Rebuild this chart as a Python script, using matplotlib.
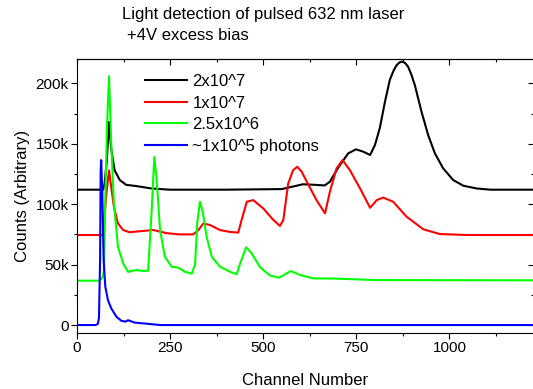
import matplotlib
matplotlib.use("Agg")
import matplotlib.pyplot as plt
from matplotlib.ticker import MultipleLocator, FuncFormatter
import numpy as np

plt.rcParams["font.family"] = ["Liberation Sans", "DejaVu Sans"]

# channel numbers / counts (thousands)
ch_2e7 = [0, 60, 70, 74, 80, 86, 92, 101, 115, 132, 159, 200, 250, 400, 550, 607,
          640, 665, 679, 697, 706, 728, 749, 769, 787, 800, 813, 827, 840, 850, 858, 866, 873,
          881, 889, 898, 907, 925, 943, 961, 983, 1010, 1037, 1073, 1110, 1230]
cnt_2e7 = [112, 112, 112, 117, 136, 168, 145, 128, 120, 116, 115, 113, 112, 112, 112.5, 116.5,
           116, 115.5, 118.6, 128, 132.4, 142, 145.4, 143.4, 140.7, 149, 163, 185, 203, 210.5, 215, 217.3, 218,
           216.8, 213.7, 207, 198.6, 176.5, 157, 142, 129.7, 120, 115.3, 113, 112, 112]

ch_1e7 = [0, 70, 79, 86, 92, 99, 110, 124, 141, 168, 205, 241, 276, 312, 326, 339, 357,
          384, 411, 433, 442, 456, 473, 500, 527, 545, 554, 567, 580, 591, 603, 617, 643, 666, 679,
          697, 713, 733, 760, 787, 805, 822, 849, 885, 930, 974, 1046, 1230]
cnt_1e7 = [74.5, 74.5, 109, 128, 114, 98, 84, 78.6, 76.8, 77.6, 78.6, 76, 75, 75, 78.6, 84, 82.8,
           78.6, 77, 76.5, 87, 102, 103.4, 96.5, 87, 82, 87, 117, 128, 131, 127, 118.6, 103.4, 92.4, 110.3,
           129.7, 136.5, 128, 113, 97, 103.4, 105.5, 102, 89.6, 79.2, 75.3, 74.5, 74.5]

ch_25e6 = [0, 60, 68, 72.5, 76, 80.5, 86, 92, 99, 110, 124, 137, 159, 178, 191, 200, 207.5,
           214, 223, 236, 254, 272, 290, 308, 317, 323, 330, 337.5, 348, 362, 384, 411, 429,
           438, 454, 469, 491, 518, 543, 574, 599, 634, 697, 800, 1230]
cnt_25e6 = [36.7, 36.7, 39, 45, 105, 164, 206, 150, 100.7, 64.8, 51, 44, 45.5, 44.7, 45, 92, 139,
            120, 78.6, 56.5, 48.3, 47.5, 44, 42.5, 50, 85, 102, 94, 73, 56.5, 48.3, 44, 42,
            51, 64.3, 59.3, 48, 41, 39.2, 44.7, 41.4, 38.6, 38.4, 37.2, 37]

ch_1e5 = [0, 50, 56, 59, 62, 63.5, 65, 68, 71.5, 76, 83, 92, 105.6, 119, 130, 137, 155, 183, 223, 1230]
cnt_1e5 = [0, 0, 1, 6, 54, 128, 136.5, 109, 54, 31.7, 20.7, 13.8, 6.9, 3.5, 2.8, 4, 2, 1.2, 0, 0]

series = [
    (ch_2e7, cnt_2e7, "black", "2x10^7"),
    (ch_1e7, cnt_1e7, "#ff0000", "1x10^7"),
    (ch_25e6, cnt_25e6, "#00ff00", "2.5x10^6"),
    (ch_1e5, cnt_1e5, "#0000ff", "~1x10^5 photons"),
]

W, H = 533, 389
fig = plt.figure(figsize=(W / 100, H / 100), dpi=100)
l, r, t, b = 77, 534, 59.3, 333
ax = fig.add_axes([l / W, 1 - b / H, (r - l) / W, (b - t) / H])

for x, y, c, lab in series:
    ax.plot(x, np.array(y) * 1000, color=c, lw=1.5, label=lab, solid_joinstyle="round")

ax.set_xlim(0, 1227)
ax.set_ylim(-6600, 219900)
ax.xaxis.set_major_locator(MultipleLocator(250))
ax.xaxis.set_minor_locator(MultipleLocator(125))
ax.yaxis.set_major_locator(MultipleLocator(50000))
ax.yaxis.set_minor_locator(MultipleLocator(25000))
ax.yaxis.set_major_formatter(FuncFormatter(lambda v, p: "0" if v == 0 else f"{v / 1000:g}k"))
ax.tick_params(which="both", direction="out", labelsize=11, width=0.8, pad=2)
ax.tick_params(which="major", length=4)
ax.tick_params(which="minor", length=2.5)

for side in ("top", "right"):
    if side == "top":
        sec = ax.secondary_xaxis("top")
        sec.xaxis.set_major_locator(MultipleLocator(250))
        sec.xaxis.set_minor_locator(MultipleLocator(125))
        sec.tick_params(which="both", direction="in", labeltop=False, width=0.8)
    else:
        sec = ax.secondary_yaxis("right")
        sec.yaxis.set_major_locator(MultipleLocator(50000))
        sec.yaxis.set_minor_locator(MultipleLocator(25000))
        sec.tick_params(which="both", direction="in", labelright=False, width=0.8)
    sec.tick_params(which="major", length=4)
    sec.tick_params(which="minor", length=2.5)
for s in ax.spines.values():
    s.set_linewidth(0.8)

ax.set_xlabel("Channel Number", fontsize=12, labelpad=13)
ax.set_ylabel("Counts (Arbitrary)", fontsize=12, labelpad=4)

fig.text(122 / W, 1 - 14 / H, "Light detection of pulsed 632 nm laser", fontsize=12, va="center")
fig.text(127 / W, 1 - 35 / H, "+4V excess bias", fontsize=12, va="center")

ax.legend(loc="upper left", bbox_to_anchor=(145 / W, 1 - 74 / H), bbox_transform=fig.transFigure,
          frameon=False, fontsize=12, handlelength=2.5, handletextpad=0.35, labelspacing=0.4,
          borderpad=0, borderaxespad=0)

fig.savefig("out.png", dpi=100)
